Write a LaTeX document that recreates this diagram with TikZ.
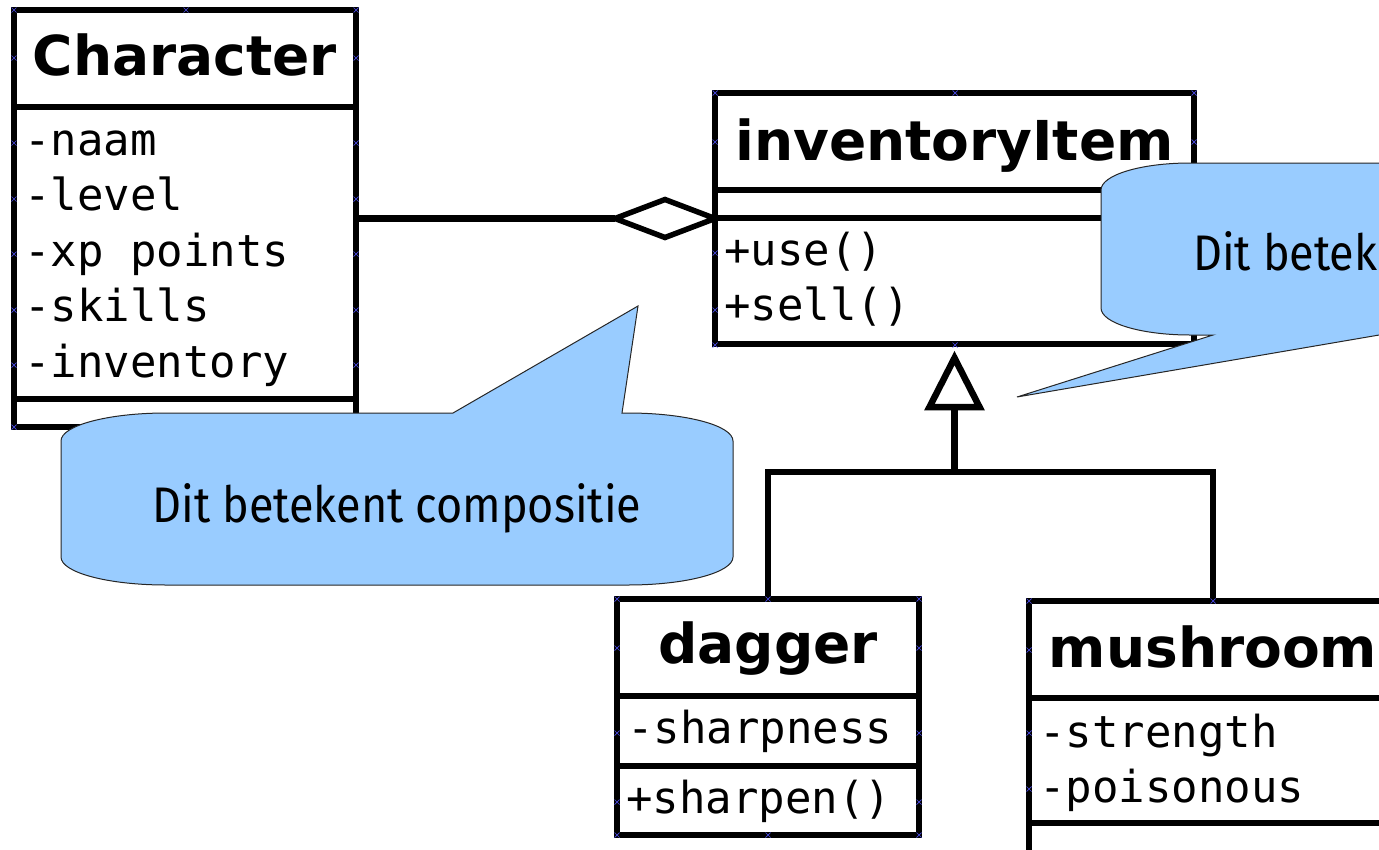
\documentclass[tikz,border=0pt]{standalone}
\usepackage{fontspec}
\usetikzlibrary{shapes.geometric,calc}

\newfontfamily\umlsans{DejaVu Sans}
\newfontfamily\umlmono{DejaVu Sans Mono}
\newfontfamily\notefont[FakeStretch=0.9]{Fira Sans}

\definecolor{notefill}{HTML}{99CCFF}
\definecolor{gluecol}{HTML}{4B4BE6}

\tikzset{
  classbox/.style={draw, line width=6.5pt, fill=white, rectangle, inner sep=0pt,
                   outer sep=0pt, anchor=north west},
  divider/.style={line width=6.5pt},
  umltitle/.style={font=\umlsans\bfseries\fontsize{55}{60}\selectfont,
                   anchor=base, inner sep=0pt},
  umlfield/.style={font=\umlmono\fontsize{44}{55}\selectfont,
                   anchor=base west, inner sep=0pt},
  connector/.style={line width=6.5pt},
  aggmark/.style={diamond, draw, line width=5.5pt, fill=white,
                  minimum width=100pt, minimum height=38pt,
                  inner sep=0pt, outer sep=0pt},
  gentip/.style={line width=6.5pt, fill=white, line join=miter},
  note/.style={draw=black!85, line width=1pt, fill=notefill},
  notetext/.style={font=\notefont\fontsize{50}{55}\selectfont,
                   inner sep=0pt, anchor=base},
  gluept/.style={draw=gluecol, line width=0.7pt},
}

\begin{document}
\begin{tikzpicture}[x=1pt,y=-1pt]
\useasboundingbox (0,0) rectangle (1379,849);
\clip (0,0) rectangle (1379,849);

% ---------- class Character ----------
\node[classbox, minimum width=342pt, minimum height=417pt] (character) at (14,10) {};
\draw[divider] (14,107) -- (356,107);
\draw[divider] (14,399) -- (356,399);
\node[umltitle] (character-title) at (185,75) {Character};
\foreach \t [count=\i] in {-naam,-level,-xp points,-skills,-inventory}
  \node[umlfield] (character-attr-\i) at (24,{155+55.5*(\i-1)}) {\t};

% ---------- class inventoryItem ----------
\node[classbox, minimum width=479pt, minimum height=251pt] (inventory) at (715,93) {};
\draw[divider] (715,190) -- (1194,190);
\draw[divider] (715,218) -- (1194,218);
\node[umltitle] (inventory-title) at (954.5,160) {inventoryItem};
\node[umlfield] (inventory-op-1) at (724,265) {+use()};
\node[umlfield] (inventory-op-2) at (724,320) {+sell()};

% ---------- class dagger ----------
\node[classbox, minimum width=302pt, minimum height=236pt] (dagger) at (617,599) {};
\draw[divider] (617,696) -- (919,696);
\draw[divider] (617,766) -- (919,766);
\node[umltitle] (dagger-title) at (768,663) {dagger};
\node[umlfield] (dagger-attr-1) at (627,743) {-sharpness};
\node[umlfield] (dagger-op-1) at (626,813) {+sharpen()};

% ---------- class mushroom ----------
\node[classbox, minimum width=368pt, minimum height=270pt] (mushroom) at (1029,601) {};
\draw[divider] (1029,698) -- (1397,698);
\draw[divider] (1029,823) -- (1397,823);
\node[umltitle] (mushroom-title) at (1213,667) {mushroom};
\node[umlfield] (mushroom-attr-1) at (1039,747) {-strength};
\node[umlfield] (mushroom-attr-2) at (1039,802) {-poisonous};

% ---------- aggregation Character -> inventoryItem ----------
\node[aggmark, anchor=east] (agg) at (inventory.west) {};
\draw[connector] (character.east) -- (agg.west);

% ---------- generalisation dagger/mushroom -> inventoryItem ----------
\coordinate (genapex) at ($(inventory.south)+(0,14)$);
\coordinate (genbase) at ($(inventory.south)+(0,63)$);
\coordinate (genjoin) at ($(genbase)+(0,65)$);
\draw[connector] (genbase) -- (genjoin);
\draw[connector] (dagger.north) |- (genjoin) -| (mushroom.north);
\draw[gentip] (genapex) -- ($(genbase)+(25,0)$) -- ($(genbase)+(-25,0)$) -- cycle;

% ---------- glue points ----------
\foreach \p in {(14,10),(186,10),(356,10),
                (14,58),(14,143),(14,199),(14,254),(14,310),(14,365),(14,427),
                (356,58),(356,143),(356,199),(356,254),(356,310),(356,365),
                (715,93),(955,93),(1194,93),(715,142),(1194,142),
                (715,253),(715,310),(715,345),(955,345),
                (617,599),(768,599),(919,599),(617,648),(919,648),
                (617,733),(919,733),(617,802),(919,802),
                (617,835),(768,835),(919,835),
                (1029,601),(1213,601),(1029,650),(1029,733),(1029,789)}
  \draw[gluept] \p +(-2.5,-2.5) -- +(2.5,2.5) +(-2.5,2.5) -- +(2.5,-2.5);

% ---------- callout: composition ----------
\draw[note] (61,441) -- (61,557)
  .. controls (61,572.5) and (108,585) .. (166,585) -- (628,585)
  .. controls (686,585) and (733,572.5) .. (733,557) -- (733,441)
  .. controls (733,425.5) and (686,413) .. (628,413) -- (622,413)
  -- (638,306) -- (453,413) -- (166,413)
  .. controls (108,413) and (61,425.5) .. (61,441) -- cycle;
\node[notetext] (note-composition) at (397,522) {Dit betekent compositie};

% ---------- callout: inheritance ----------
\draw[note] (1101,190) -- (1101,308)
  .. controls (1101,323) and (1141,335) .. (1190,335) -- (1213,335)
  -- (1017,397) -- (1385,334) -- (1500,335) -- (1500,163) -- (1190,163)
  .. controls (1141,163) and (1101,175) .. (1101,190) -- cycle;
\node[notetext, anchor=base west] (note-inheritance) at (1193,270) {Dit betekent};

\end{tikzpicture}
\end{document}
